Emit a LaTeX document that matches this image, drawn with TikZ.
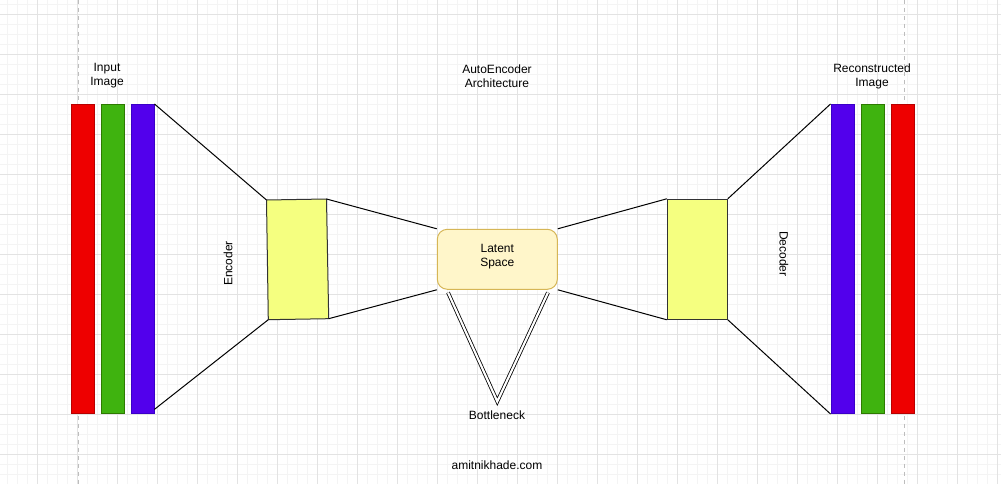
\documentclass[tikz,border=0pt]{standalone}
\usepackage{fontspec}
\setmainfont{Liberation Sans}
\definecolor{gridminor}{HTML}{F4F4F4}
\definecolor{gridmajor}{HTML}{E3E3E3}
\definecolor{pagedash}{HTML}{BDBDBD}
\definecolor{barred}{HTML}{EE0000}
\definecolor{barredline}{HTML}{B80000}
\definecolor{bargreen}{HTML}{3FB30F}
\definecolor{bargreenline}{HTML}{2D7A00}
\definecolor{barblue}{HTML}{5200EC}
\definecolor{barblueline}{HTML}{3A00C8}
\definecolor{yellowbox}{HTML}{F5FF80}
\definecolor{latentfill}{HTML}{FFF6CA}
\definecolor{latentline}{HTML}{D6B656}
\begin{document}
\begin{tikzpicture}[x=0.75pt,y=-0.75pt,
  minorgrid/.style={draw=gridminor,line width=0.6pt},
  majorgrid/.style={draw=gridmajor,line width=0.75pt},
  pageline/.style={draw=pagedash,dashed,line width=0.75pt},
  bar/.style={rectangle,inner sep=0pt,minimum width=17.25pt,minimum height=232pt,line width=0.6pt},
  redbar/.style={bar,fill=barred,draw=barredline},
  greenbar/.style={bar,fill=bargreen,draw=bargreenline},
  bluebar/.style={bar,fill=barblue,draw=barblueline},
  label/.style={inner sep=0pt,align=center,font=\fontsize{9}{10.5}\selectfont},
  conn/.style={draw=black,line width=0.75pt},
  codebox/.style={fill=yellowbox,draw=black!80,line width=0.75pt},
  latent/.style={rectangle,rounded corners=7.5pt,fill=latentfill,draw=latentline,line width=0.75pt,minimum width=90pt,minimum height=45pt,inner sep=0pt},
  bottleneck/.style={draw=black,line width=0.6pt,double=white,double distance=1.6pt}
]
\useasboundingbox (0,0) rectangle (1001,484);
\fill[white] (0,0) rectangle (1001,484);
% grid
\foreach \gx in {7.7,17.7,...,1001} {\draw[minorgrid] (\gx,0) -- (\gx,484);}
\foreach \gy in {4.3,14.3,...,484} {\draw[minorgrid] (0,\gy) -- (1001,\gy);}
\foreach \gx in {37.7,77.7,...,1001} {\draw[majorgrid] (\gx,0) -- (\gx,484);}
\foreach \gy in {14.3,54.3,...,484} {\draw[majorgrid] (0,\gy) -- (1001,\gy);}
\draw[pageline] (78,0) -- (78,484);
\draw[pageline] (904.5,0) -- (904.5,484);

% input bars
\node[redbar] (inR) at (82.5,259) {};
\node[greenbar] (inG) at (112.5,259) {};
\node[bluebar] (inB) at (142.5,259) {};
% output bars
\node[bluebar] (outB) at (842.5,259) {};
\node[greenbar] (outG) at (872.5,259) {};
\node[redbar] (outR) at (902.5,259) {};

% encoder quad
\coordinate (encTL) at (266.5,200);
\coordinate (encTR) at (326.5,199);
\coordinate (encBR) at (328.7,318.7);
\coordinate (encBL) at (268.3,319.7);
\path[codebox] (encTL) -- (encTR) -- (encBR) -- (encBL) -- cycle;

% decoder
\node[rectangle,codebox,minimum width=45pt,minimum height=90pt,inner sep=0pt] (dec) at (697.3,259.3) {};

% latent
\node[latent] (lat) at (497.3,259.3) {};
\node[label] (tLat) at (497.3,256.5) {Latent\\Space};

% connectors
\draw[conn] (inB.north east) -- (encTL);
\draw[conn] ([yshift=3.5pt]inB.south east) -- (encBL);
\draw[conn] (encTR) -- (lat.north west);
\draw[conn] (encBR) -- (lat.south west);
\draw[conn] (lat.north east) -- (dec.north west);
\draw[conn] (lat.south east) -- (dec.south west);
\draw[conn] (dec.north east) -- (outB.north west);
\draw[conn] (dec.south east) -- (outB.south west);

% bottleneck
\coordinate (bnL) at (448,292.5);
\coordinate (bnA) at (497.3,401.5);
\coordinate (bnR) at (548,292.5);
\draw[bottleneck] (bnL) -- (bnA) -- (bnR);

% labels
\node[label] (tIn) at (107,76) {Input\\Image};
\node[label] (tAE) at (497,76) {AutoEncoder\\Architecture};
\node[label] (tRec) at (872,76) {Reconstructed\\Image};
\node[label] (tBn) at (497,415.5) {Bottleneck};
\node[label,rotate=90] (tEnc) at (228,263.5) {Encoder};
\node[label,rotate=-90] (tDec) at (784,254) {Decoder};
\node[label] (tWeb) at (497,465) {amitnikhade.com};
\end{tikzpicture}
\end{document}
